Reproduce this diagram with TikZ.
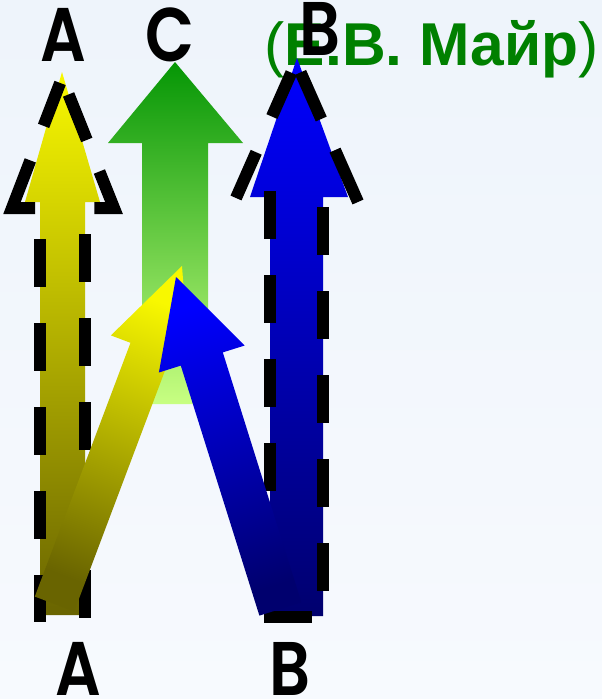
\documentclass[tikz,border=0pt]{standalone}
\usepackage{fontspec}
\newfontfamily\lettfont{Poppins SemiBold}
\newfontfamily\mayrfont{Liberation Sans}
\definecolor{bgA}{RGB}{238,244,251}
\definecolor{bgB}{RGB}{247,250,254}
\definecolor{gtop}{RGB}{5,150,5}
\definecolor{gbot}{RGB}{200,255,130}
\definecolor{ytop}{RGB}{248,248,0}
\definecolor{ybot}{RGB}{105,100,0}
\definecolor{btop}{RGB}{0,0,255}
\definecolor{bbot}{RGB}{0,0,110}
\definecolor{mayrgreen}{RGB}{0,128,0}
\begin{document}
\begin{tikzpicture}[x=1pt,y=-1pt,
  letter/.style={font=\lettfont\fontsize{76}{80}\selectfont, anchor=base, inner sep=0pt, xscale=0.84, transform shape},
  mayr/.style={font=\mayrfont\bfseries\fontsize{60.5}{65}\selectfont, text=mayrgreen, inner sep=0pt, anchor=base west},
  outl/.style={draw=black, line width=12pt, line join=miter},
  shaftdash/.style={outl, dash pattern=on 48pt off 36pt}]
\useasboundingbox (0,0) rectangle (602,699);
\shade[top color=bgA, bottom color=bgB] (0,0) rectangle (602,699);

% green text
\node[mayr] (mayr) at (264.5,65) {{\mdseries(}Е.В. Майр{\mdseries)}};

% green arrow C
\shade[top color=gtop, bottom color=gbot] (175,62) -- (243,143) -- (208,143) -- (208,404) -- (142,404) -- (142,143) -- (108,143) -- cycle;

% yellow vertical arrow A
\shade[top color=ytop, bottom color=ybot] (62,72) -- (100,202) -- (85,202) -- (85,615) -- (40,615) -- (40,202) -- (25,202) -- cycle;

% blue vertical arrow B
\shade[top color=btop, bottom color=bbot] (297,58) -- (348,197) -- (323,197) -- (323,616) -- (270,616) -- (270,197) -- (250,197) -- cycle;

% dashed outline of A
\draw[outl, dash pattern=on 74pt off 37pt on 46pt off 23pt on 49pt off 34pt on 59pt off 20pt]
  (35,208) -- (12,208) -- (62,78) -- (114,208) -- (94,208);
\draw[shaftdash] (39.5,239) -- (39.5,622);
\draw[shaftdash] (85,234) -- (85,622);

% dashed outline of B
\draw[outl, dash pattern=on 50pt off 39pt on 48pt off 23pt on 51pt off 34pt on 57pt off 20pt]
  (236,198) -- (296,62) -- (358,202);
\draw[shaftdash] (270,191) -- (270,617) -- (323,617);
\draw[shaftdash] (323,207) -- (323,617);

% yellow diagonal arrow
\shade[top color=ytop, bottom color=ybot, shading angle=-21] (182,266) -- (189.5,365) -- (169.9,357.6) -- (74.2,611.4) -- (34.8,596.6) -- (130.5,342.8) -- (110.9,335.4) -- cycle;

% blue diagonal arrow
\shade[top color=btop, bottom color=bbot, shading angle=17.5] (176,277) -- (244.7,345.5) -- (222.8,352.4) -- (301.4,602.4) -- (259.4,615.6) -- (180.8,365.6) -- (158.9,372.5) -- cycle;

% letters
\node[letter] (aTop) at (63,61) {A};
\node[letter] (cTop) at (170,61) {C};
\node[letter] (bTop) at (320,55) {B};
\node[letter] (aBot) at (78.5,695) {A};
\node[letter] (bBot) at (290,695) {B};
\end{tikzpicture}
\end{document}
